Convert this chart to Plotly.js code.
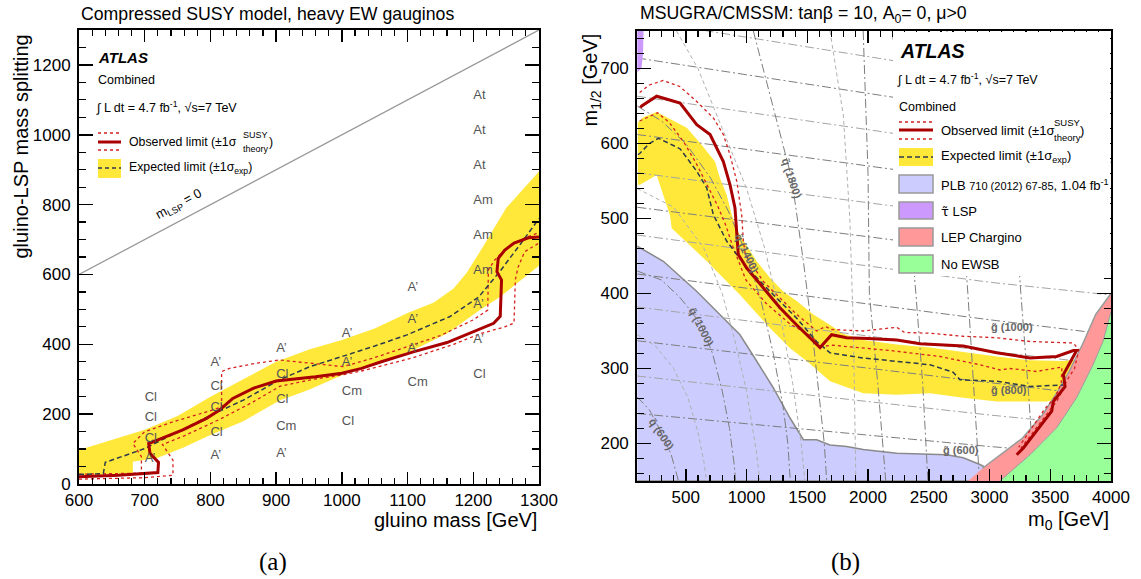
<!DOCTYPE html>
<html><head><meta charset="utf-8">
<script src="https://cdn.plot.ly/plotly-3.0.1.min.js"></script>
<style>body{margin:0;background:#fff}#chart{width:1141px;height:579px}</style>
</head><body><div id="chart"></div>
<script>
// ---------------- LEFT PANEL DATA (gluino mass, gluino-LSP splitting) ----------------
const L_obsX = [600,660,720,721,708,706,722,758,794,814,834,865,900,930,960,1000,1030,1060,1110,1160,1205,1231,1241,1243,1236,1238,1248,1262,1284,1300];
const L_obsY = [21,25,33,62,88,116,128,155,188,212,245,274,295,300,307,317,331,350,379,405,441,460,480,584,608,646,670,690,705,707];
const L_expX = [600,637,640,698,760,806,850,904,950,1001,1050,1099,1164,1208,1241,1273,1300];
const L_expY = [27,30,62,100,158,202,240,297,335,365,395,427,479,535,610,690,760];
const L_obsMinusX = [600,695,695,682,700,743,804,817,817,829,870,905,957,1002,1050,1100,1150,1200,1222,1223,1232,1250,1275,1300];
const L_obsMinusY = [28,31,78,116,150,178,212,221,322,331,346,355,345,336,362,393,425,470,498,613,640,675,702,720];
const L_obsPlusX = [600,700,743,743,727,760,814,865,906,957,1000,1033,1109,1170,1210,1248,1262,1264,1268,1278,1300];
const L_obsPlusY = [14,18,25,68,113,138,185,235,280,300,312,325,362,400,430,450,461,585,620,665,690];
const L_bandUpX = [600,650,700,750,800,850,900,950,1000,1050,1100,1140,1170,1190,1215,1250,1300];
const L_bandUpY = [97,125,155,195,250,300,350,385,412,445,490,520,560,605,680,790,895];
const L_bandLoX = [1300,1270,1241,1210,1160,1109,1050,1007,950,906,850,800,760,720,682,682,600];
const L_bandLoY = [625,580,536,498,431,384,345,317,270,240,180,140,105,75,64,31,25];
const L_diagX = [600,1300];
const L_diagY = [600,1300];
const L_lblX = [700,700,700,700, 800,800,800,800,800, 900,900,900,900,900, 1000,1000,1000,1000, 1100,1100,1100,1100, 1200,1200,1200,1200,1200,1200,1200,1200,1200];
const L_lblY = [247,190,130,71, 348,279,217,148,81, 388,314,240,165,88, 431,348,264,179, 562,471,386,291, 1112,1012,912,812,712,612,514,414,312];
const L_lblT = ['Cl','Cl','Cl','A’', 'A’','Cl','Cl','Cl','A’', 'A’','Cl','Cl','Cm','A’', 'A’','A’','Cm','Cl', 'A’','A’','A’','Cm', 'At','At','At','Am','Am','Am','A’','A’','Cl'];

// ---------------- RIGHT PANEL DATA (m0, m1/2) ----------------
const R_obsX = [125,137,260,453,590,700,809,864,905,924,932,1001,1138,1275,1413,1523,1605,1700,1824,2000,2236,2428,2784,3059,3334,3553,3690,3717,3608,3622,3525,3512,3416,3279,3224];
const R_obsY = [648,650,663,654,625,612,576,545,514,478,452,434,407,381,358,341,328,345,341,340,338,333,330,321,314,316,324,324,292,276,256,243,223,194,185];
const R_obsUpX = [120,200,315,450,590,727,809,864,919,960,974,990,1138,1413,1577,1650,1700,1961,2236,2300,2510,2784,3059,3333,3690,3735,3700,3640,3560,3450,3330,3250];
const R_obsUpY = [668,678,684,676,656,634,612,585,550,505,470,452,416,372,350,356,352,350,355,348,347,343,341,336,334,325,300,285,258,235,210,192];
const R_obsDnX = [120,268,364,487,584,666,762,831,886,930,995,1160,1352,1544,1599,1709,1849,2181,2592,2921,3086,3168,3388,3596,3590,3540,3450,3320,3240];
const R_obsDnY = [630,641,628,601,574,548,517,490,463,445,418,387,360,342,329,331,329,324,316,305,298,300,296,302,280,262,245,215,195];
const R_expX = [105,123,200,274,453,590,672,727,836,919,1000,1193,1413,1577,1687,1961,2510,2700,2757,3059,3333,3608];
const R_expY = [585,587,600,607,593,563,541,505,470,452,435,403,367,336,321,314,305,295,285,283,276,278];
const R_bandUpX = [105,150,260,400,508,631,740,781,836,878,914,946,1083,1193,1300,1413,1550,1687,1800,1961,2236,2510,2784,3059,3333,3600,3717];
const R_bandUpY = [628,635,642,630,621,598,576,554,532,505,487,478,443,421,403,390,372,358,346,338,332,328,322,316,311,310,312];
const R_bandLoX = [3700,3650,3470,3059,2784,2510,2236,1961,1687,1495,1358,1193,947,673,384,370,260,123,105];
const R_bandLoY = [290,262,256,256,261,267,265,267,283,310,327,354,398,443,487,504,558,545,545];
const R_plbX = [100,315,589,809,946,1083,1221,1358,1468,1577,1687,1824,1961,2236,2510,2647,2784,2921,3003,3060,100];
const R_plbY = [463,443,403,367,345,310,274,234,205,205,198,196,192,187,186,185,181,172,165,150,150];
const R_tauX = [100,152,148,135,100];
const R_tauY = [750,750,720,700,695];
const R_lepLeftX = [2826,2942,3133,3270,3435,3545,3655,3765,3874,4000];
const R_lepLeftY = [150,167,190,207,238,265,296,332,372,400];
const R_ewsbEdgeX = [3086,3333,3553,3717,3852,3934,4000];
const R_ewsbEdgeY = [150,185,221,261,305,336,376];
// gluino iso-mass lines: m1/2 read at m0 = 100, 3000, 4000
const R_gluinoMass = [600,700,800,900,1000,1100,1200,1300,1400,1500,1600,1700];
const R_gluinoAtX = [100,3000,4000];
const R_gluinoY = [[240,196,183],[290,238,222],[337,281,262],[382,323,305],[426,365,345],[478,415,398],[515,455,437],[561,500,480],[612,548,528],[663,595,575],[714,642,620],[765,690,668]];
// squark iso-mass lines
const R_squarkMass = [600,1000,1400,1800,2200,2600,3000,3400,800,1200,1600,2000];
const R_squarkX = [[100,200,301,380,440],[100,300,450,550,631,720,800,860,900,910],[100,300,500,700,850,1001,1120,1220,1300,1340,1360],[1056,1200,1371,1468,1540,1600,1640,1660],
  [1960,2000,2011,2080,2146],[2200,2290,2394,2450,2493],[2650,2740,2822,2870,2918],[3100,3190,3258,3320,3371],
  [100,250,400,520,600,650,670],[100,400,650,800,900,1000,1080,1110],[424,600,800,1000,1150,1280,1380,1450,1480],[1687,1797,1850,1880,1900]];
const R_squarkY = [[262,245,214,185,150],[430,418,395,375,356,320,270,220,170,150],[650,630,600,555,510,452,390,320,250,200,150],[750,660,554,443,350,260,200,150],
  [750,560,400,280,150],[750,600,400,280,150],[750,580,400,280,150],[750,560,400,270,150],
  [345,330,300,260,215,175,150],[540,515,460,400,340,270,190,150],[750,700,620,540,460,370,280,200,150],[750,637,500,350,150]];
const R_isoLblX = [3186,3160,2766,631,302,1001,1371];
const R_isoLblY = [355,272,192,356,213,454,554];
const R_isoLblT = ['g̃ (1000)','g̃ (800)','g̃ (600)','q̃ (1000)','q̃ (600)','q̃ (1400)','q̃ (1800)'];
const R_isoLblA = [0,0,0,63,56,65,72];

// ---------------- STYLE ----------------
const W = 1141, H = 579;
const FONT = 'Liberation Sans, Arial, Helvetica, sans-serif';
const RED = '#a80000', RED_DOT = '#d42020', DASH = '#2c3a4a', YEL = '#ffe83a';
function pp(px, py){ return {x: px / W, y: 1 - py / H}; }
function ann(px, py, text, o){
  o = o || {};
  const p = pp(px, py);
  const font = Object.assign({family: FONT, size: 13, color: '#000'}, o.font || {});
  const a = Object.assign({xref:'paper', yref:'paper', x:p.x, y:p.y, text:text, showarrow:false, xanchor:'left', yanchor:'middle'}, o);
  a.font = font;
  return a;
}
function rectPx(x0,y0,x1,y1,fill,lineColor,lw){
  const a = pp(x0,y0), b = pp(x1,y1);
  return {type:'rect', xref:'paper', yref:'paper', x0:a.x, y0:a.y, x1:b.x, y1:b.y, fillcolor:fill, line:{color:lineColor||fill, width: lw===undefined?0:lw}, layer:'above'};
}
function linePx(x0,y0,x1,y1,color,width,dash){
  const a = pp(x0,y0), b = pp(x1,y1);
  return {type:'line', xref:'paper', yref:'paper', x0:a.x, y0:a.y, x1:b.x, y1:b.y, line:{color:color, width:width, dash:dash||'solid'}, layer:'above'};
}
function poly(xa, ya, xr, yr, fill, lineColor, lw){
  return {x: xa, y: ya, xaxis: xr, yaxis: yr, type:'scatter', mode:'lines', fill:'toself', fillcolor: fill,
    line:{color: lineColor || fill, width: lw || 0}, hoverinfo:'skip'};
}
function curve(xa, ya, xr, yr, color, width, dash){
  return {x: xa, y: ya, xaxis: xr, yaxis: yr, type:'scatter', mode:'lines', line:{color:color, width:width, dash:dash||'solid'}, hoverinfo:'skip'};
}
const DASHDOT = '9px,3px,2px,3px';

const traces = [];
// Left panel
traces.push(poly(L_bandUpX.concat(L_bandLoX), L_bandUpY.concat(L_bandLoY), 'x', 'y', YEL));
traces.push(curve(L_diagX, L_diagY, 'x', 'y', '#999', 1.3));
traces.push(curve(L_obsMinusX, L_obsMinusY, 'x', 'y', RED_DOT, 1.3, 'dot'));
traces.push(curve(L_obsPlusX, L_obsPlusY, 'x', 'y', RED_DOT, 1.3, 'dot'));
traces.push(curve(L_expX, L_expY, 'x', 'y', DASH, 1.5, '5px,3px'));
traces.push(curve(L_obsX, L_obsY, 'x', 'y', RED, 3));
traces.push({x: L_lblX, y: L_lblY, text: L_lblT, xaxis:'x', yaxis:'y', type:'scatter', mode:'text', textposition:'middle right',
  textfont:{family:FONT, size:13, color:'#555'}, hoverinfo:'skip'});

// Right panel
traces.push(poly(R_plbX, R_plbY, 'x2', 'y2', '#ccccff', '#8a8a8a', 1.5));
traces.push(poly(R_bandUpX.concat(R_bandLoX), R_bandUpY.concat(R_bandLoY), 'x2', 'y2', YEL));
R_gluinoY.forEach((ys, i) => traces.push(curve(R_gluinoAtX, ys, 'x2', 'y2', i % 2 === 0 ? '#7d7d7d' : '#a4a4a4', 1, DASHDOT)));
R_squarkX.forEach((xs, i) => traces.push(curve(xs, R_squarkY[i], 'x2', 'y2', i < 8 ? '#7d7d7d' : '#b0b0b0', 1, i < 8 ? DASHDOT : '4px,3px')));
traces.push(poly(R_lepLeftX.concat(R_ewsbEdgeX.slice().reverse()), R_lepLeftY.concat(R_ewsbEdgeY.slice().reverse()), 'x2', 'y2', '#ff9999'));
traces.push(poly(R_ewsbEdgeX.concat([4000]), R_ewsbEdgeY.concat([150]), 'x2', 'y2', '#99ff99'));
traces.push(curve(R_lepLeftX.slice(1), R_lepLeftY.slice(1), 'x2', 'y2', '#9a9a9a', 1.5));
traces.push(curve(R_ewsbEdgeX, R_ewsbEdgeY, 'x2', 'y2', '#9a9a9a', 1));
traces.push(poly(R_tauX, R_tauY, 'x2', 'y2', '#cc99ff'));
traces.push(curve(R_obsUpX, R_obsUpY, 'x2', 'y2', RED_DOT, 1.3, 'dot'));
traces.push(curve(R_obsDnX, R_obsDnY, 'x2', 'y2', RED_DOT, 1.3, 'dot'));
traces.push(curve(R_expX, R_expY, 'x2', 'y2', DASH, 1.5, '5px,3px'));
traces.push(curve(R_obsX, R_obsY, 'x2', 'y2', RED, 3));

const axBase = {showgrid:false, zeroline:false, showline:true, linecolor:'#000', linewidth:2, mirror:'allticks',
  ticks:'inside', tickcolor:'#000', tickwidth:1.5, tickfont:{family:FONT, size:17, color:'#000'}, fixedrange:true};
function ax(o){ return Object.assign({}, axBase, o); }

const annotations = [];
// Left texts
annotations.push(ann(79, 14, 'Compressed SUSY model, heavy EW gauginos', {font:{size:17.7}}));
annotations.push(ann(96, 58, '<b><i>ATLAS</i></b>', {font:{size:15}}));
annotations.push(ann(96, 80, 'Combined', {font:{size:12.5}}));
annotations.push(ann(94, 107, '∫ L dt = 4.7 fb<sup>-1</sup>, √s=7 TeV', {font:{size:12.5}}));
annotations.push(ann(127, 142, 'Observed limit (±1σ', {font:{size:12.3}}));
annotations.push(ann(241, 135, 'SUSY', {font:{size:9}}));
annotations.push(ann(241, 149, 'theory', {font:{size:9}}));
annotations.push(ann(267, 142, ')', {font:{size:12.3}}));
annotations.push(ann(127, 168, 'Expected limit (±1σ<sub>exp</sub>)', {font:{size:12.3}}));
annotations.push({xref:'x', yref:'y', x:752, y:800, text:'m<sub>LSP</sub> = 0', showarrow:false, textangle:-28, font:{family:FONT, size:13, color:'#000'}});
annotations.push(ann(539, 520, 'gluino mass [GeV]', {xanchor:'right', font:{size:20}}));
annotations.push(ann(20.5, 33, 'gluino-LSP mass splitting', {xanchor:'center', yanchor:'top', textangle:-90, font:{size:20}}));
annotations.push(ann(273, 562, '(a)', {xanchor:'center', font:{family:'Liberation Serif, DejaVu Serif, serif', size:25}}));
// Right texts
annotations.push(ann(638, 14, 'MSUGRA/CMSSM: tanβ = 10, A<sub>0</sub>= 0, μ>0', {font:{size:17.7}}));
annotations.push(ann(898, 51, '<b><i>ATLAS</i></b>', {font:{size:19.5}}));
annotations.push(ann(895, 79, '∫ L dt = 4.7 fb<sup>-1</sup>, √s=7 TeV', {font:{size:12.5}}));
annotations.push(ann(897, 107, 'Combined', {font:{size:12.5}}));
annotations.push(ann(939, 130, 'Observed limit (±1σ', {font:{size:13}}));
annotations.push(ann(1052, 123, 'SUSY', {font:{size:9.5}}));
annotations.push(ann(1052, 137, 'theory', {font:{size:9.5}}));
annotations.push(ann(1078, 130, ')', {font:{size:13}}));
annotations.push(ann(939, 156, 'Expected limit (±1σ<sub>exp</sub>)', {font:{size:13}}));
annotations.push(ann(939, 185, 'PLB <span style="font-size:11px">710 (2012) 67-85</span>, 1.04 fb<sup>-1</sup>', {font:{size:13}}));
annotations.push(ann(939, 211, '<span style="font-family:DejaVu Sans">τ̃</span> LSP', {font:{size:13}}));
annotations.push(ann(939, 237, 'LEP Chargino', {font:{size:13}}));
annotations.push(ann(939, 264, 'No EWSB', {font:{size:13}}));
annotations.push(ann(1111, 520, 'm<sub>0</sub> [GeV]', {xanchor:'right', font:{size:20}}));
annotations.push(ann(591, 32, 'm<sub>1/2</sub> [GeV]', {xanchor:'center', yanchor:'top', textangle:-90, font:{size:20}}));
annotations.push(ann(845, 562, '(b)', {xanchor:'center', font:{family:'Liberation Serif, DejaVu Serif, serif', size:25}}));
R_isoLblX.forEach((x, i) => annotations.push({xref:'x2', yref:'y2', x:x, y:R_isoLblY[i], text:'<b>'+R_isoLblT[i]+'</b>', showarrow:false,
  textangle:R_isoLblA[i], font:{family:FONT, size:11, color:'#666'}}));

const shapes = [];
// left legend samples
shapes.push(linePx(98,133,121,133,RED_DOT,1.3,'dot'));
shapes.push(linePx(98,142,121,142,RED,3));
shapes.push(linePx(98,150,121,150,RED_DOT,1.3,'dot'));
shapes.push(rectPx(98,159,121,178,YEL));
shapes.push(linePx(98,168,121,168,DASH,1.5,'4px,3px'));
// right legend background and samples
shapes.push(rectPx(893,32,1110,276,'#ffffff'));
shapes.push(linePx(899,122,933,122,RED_DOT,1.3,'dot'));
shapes.push(linePx(899,130,933,130,RED,3));
shapes.push(linePx(899,139,933,139,RED_DOT,1.3,'dot'));
shapes.push(rectPx(899,148,933,166,YEL));
shapes.push(linePx(899,157,933,157,DASH,1.5,'5px,3px'));
shapes.push(rectPx(899,175,933,193,'#ccccff','#999',1.5));
shapes.push(rectPx(899,202,933,219,'#cc99ff','#999',1.5));
shapes.push(rectPx(899,228,933,246,'#ff9999','#999',1.5));
shapes.push(rectPx(899,255,933,273,'#99ff99','#999',1.5));

const layout = {
  width: W, height: H, margin:{l:0, r:0, t:0, b:0}, paper_bgcolor:'#fff', plot_bgcolor:'rgba(0,0,0,0)', showlegend:false,
  font:{family:FONT},
  xaxis: ax({domain:[79/W, 539/W], range:[600,1300], dtick:100, ticklen:12, ticklabelstandoff:0, minor:{dtick:20, ticklen:6, ticks:'inside', tickcolor:'#000', tickwidth:1.2}, anchor:'y'}),
  yaxis: ax({domain:[1-484/H, 1-30/H], range:[0,1300], dtick:200, ticklen:14, ticklabelstandoff:3, minor:{dtick:50, ticklen:7, ticks:'inside', tickcolor:'#000', tickwidth:1.2}, anchor:'x'}),
  xaxis2: ax({domain:[637.2/W, 1111/W], range:[100,4000], tick0:0, dtick:500, ticklen:12, ticklabelstandoff:0, minor:{dtick:100, ticklen:6, ticks:'inside', tickcolor:'#000', tickwidth:1.2}, anchor:'y2'}),
  yaxis2: ax({domain:[1-481/H, 1-31/H], range:[150,750], tick0:0, dtick:100, ticklen:14, ticklabelstandoff:3, minor:{dtick:20, ticklen:7, ticks:'inside', tickcolor:'#000', tickwidth:1.2}, anchor:'x2'}),
  annotations: annotations, shapes: shapes
};
Plotly.newPlot('chart', traces, layout, {staticPlot:true, displayModeBar:false});
</script></body></html>
